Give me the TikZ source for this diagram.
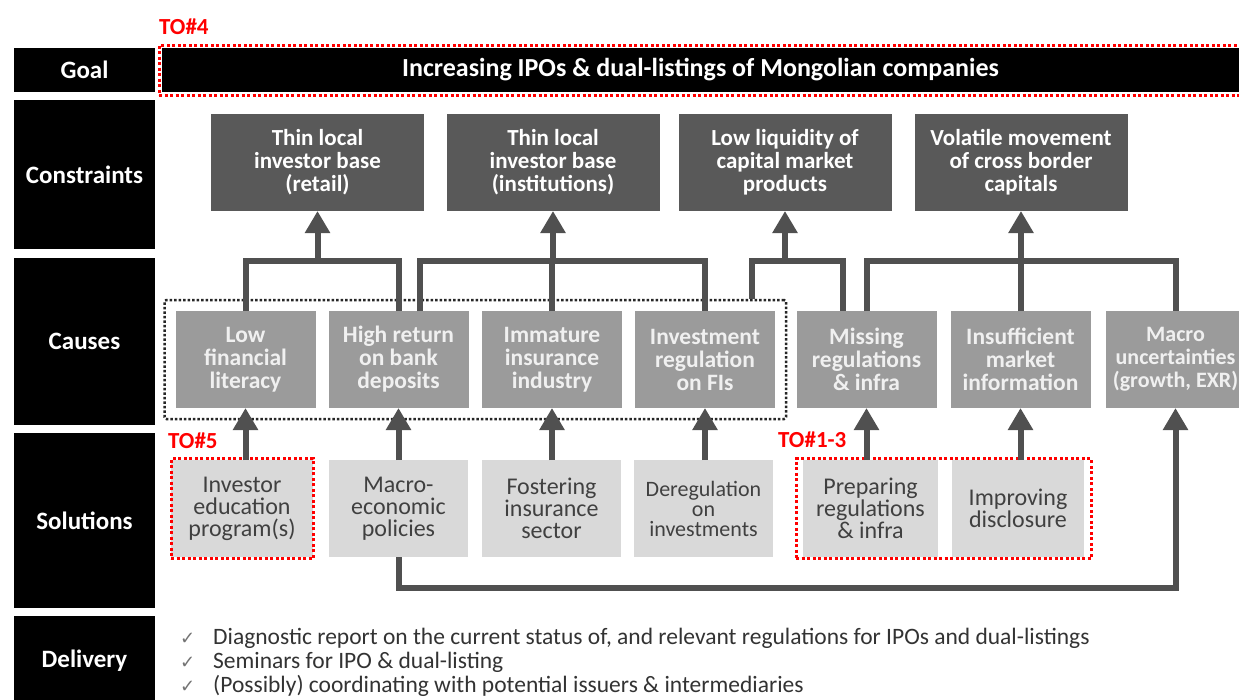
\documentclass[tikz,border=0pt]{standalone}
\usepackage{fontspec}
\setmainfont{Carlito}
\newfontfamily\tickfont{DejaVu Sans}
\usetikzlibrary{arrows.meta, fit}

\definecolor{constraint grey}{HTML}{595959}
\definecolor{cause grey}{HTML}{9B9B9B}
\definecolor{solution grey}{HTML}{D9D9D9}
\definecolor{link grey}{HTML}{505050}
\definecolor{solution text}{HTML}{404040}
\definecolor{target red}{HTML}{FF0000}

\newcommand{\deliverytick}{\makebox[33pt][l]{\textcolor{black!55}{\tickfont\fontsize{18}{18}\selectfont ✓}}}

\tikzset{
	roadmap/.is family,
	roadmap/.cd,
	row label/.style = {
		fill = black,
		text = white,
		inner sep = 0pt,
		outer sep = 0pt,
		minimum width = 141pt,
		font = \fontsize{25}{28}\selectfont\bfseries,
	},
	goal bar/.style = {
		fill = black,
		text = white,
		inner sep = 0pt,
		outer sep = 0pt,
		minimum width = 1077pt,
		minimum height = 44pt,
		font = \fontsize{26}{28}\selectfont\bfseries,
	},
	constraint box/.style = {
		fill = constraint grey,
		text = white,
		align = center,
		inner sep = 0pt,
		outer sep = 0pt,
		minimum width = 213pt,
		minimum height = 97pt,
		font = \fontsize{23}{23}\selectfont\bfseries,
	},
	cause box/.style = {
		fill = cause grey,
		text = white!94!black,
		align = center,
		inner sep = 0pt,
		outer sep = 0pt,
		minimum width = 140pt,
		minimum height = 97pt,
		font = \fontsize{23.5}{23}\selectfont\bfseries,
	},
	solution box/.style = {
		fill = solution grey,
		text = solution text,
		align = center,
		inner sep = 0pt,
		outer sep = 0pt,
		minimum width = 139pt,
		minimum height = 97pt,
		font = \fontsize{24}{22}\selectfont,
	},
	cause group/.style = {
		draw = black!85,
		line width = 2.5pt,
		dash pattern = on 2.5pt off 2pt,
		rounded corners = 2pt,
		inner sep = 11pt,
	},
	target region/.style = {
		draw = target red,
		line width = 3pt,
		dash pattern = on 3pt off 2.5pt,
	},
	target tag/.style = {
		text = target red,
		inner sep = 0pt,
		anchor = west,
		font = \fontsize{23}{23}\selectfont\bfseries,
	},
	link/.style = {
		draw = link grey,
		line width = 6pt,
	},
	link arrow/.style = {
		roadmap/link,
		-{Triangle[width = 24pt, length = 22pt]},
	},
	delivery item/.style = {
		text = black!80,
		inner sep = 0pt,
		anchor = west,
		font = \fontsize{23.5}{24}\selectfont,
	},
}

\begin{document}
\begin{tikzpicture}[x = 1pt, y = -1pt]
	\useasboundingbox[fill = white] (0, 0) rectangle (1239, 699);

	% row labels
	\node[roadmap/row label, minimum height = 44pt] (lab goal) at (84.5, 70) {Goal};
	\node[roadmap/row label, minimum height = 149pt] (lab constraints) at (84.5, 174.5) {Constraints};
	\node[roadmap/row label, minimum height = 167pt] (lab causes) at (84.5, 341.5) {Causes};
	\node[roadmap/row label, minimum height = 175pt] (lab solutions) at (84.5, 520.5) {Solutions};
	\node[roadmap/row label, minimum height = 90pt] (lab delivery) at (84.5, 661) {Delivery};

	% goal
	\node[roadmap/goal bar] (goal) at (700.5, 70) {Increasing IPOs \& dual-listings of Mongolian companies};
	\node[roadmap/target region, fit = (goal), inner sep = 3pt] (goal target) {};
	\node[roadmap/target tag] (to goal) at (159, 27) {TO\#4};

	% constraints
	\node[roadmap/constraint box] (con1) at (317.5, 162.5) {Thin local\\investor base\\(retail)};
	\node[roadmap/constraint box] (con2) at (553, 162.5) {Thin local\\investor base\\(institutions)};
	\node[roadmap/constraint box] (con3) at (785, 162.5) {Low liquidity of\\capital market\\products};
	\node[roadmap/constraint box] (con4) at (1021, 162.5) {Volatile movement\\of cross border\\capitals};

	% causes
	\node[roadmap/cause box] (cause1) at (245.5, 359.5) {Low\\financial\\literacy};
	\node[roadmap/cause box] (cause2) at (398.5, 359.5) {High return\\on bank\\deposits};
	\node[roadmap/cause box] (cause3) at (552, 359.5) {Immature\\insurance\\industry};
	\node[roadmap/cause box] (cause4) at (705, 359.5) {Investment\\regulation\\on FIs};
	\node[roadmap/cause box] (cause5) at (866.5, 359.5) {Missing\\regulations\\\& infra};
	\node[roadmap/cause box] (cause6) at (1020.5, 359.5) {Insufficient\\market\\information};
	\node[roadmap/cause box, font = \fontsize{22}{23}\selectfont\bfseries] (cause7) at (1175.5, 359.5) {Macro\\uncertainties\\(growth, EXR)};
	\node[roadmap/cause group, fit = (cause1) (cause4)] (group) {};

	% solutions
	\node[roadmap/solution box, minimum width = 142pt] (sol1) at (242, 508.5) {Investor\\education\\program(s)};
	\node[roadmap/solution box] (sol2) at (398.5, 508.5) {Macro-\\economic\\policies};
	\node[roadmap/solution box] (sol3) at (551.5, 508.5) {Fostering\\insurance\\sector};
	\node[roadmap/solution box, font = \fontsize{22}{20}\selectfont] (sol4) at (703.5, 508.5) {Deregulation\\on\\investments};
	\node[roadmap/solution box, minimum width = 135pt] (sol5) at (870.5, 508.5) {Preparing\\regulations\\\& infra};
	\node[roadmap/solution box, minimum width = 132pt] (sol6) at (1018, 508.5) {Improving\\disclosure};
	\node[roadmap/target region, fit = (sol1), inner xsep = 0pt, inner ysep = 1.5pt] (sol1 target) {};
	\node[roadmap/target region, fit = (sol5) (sol6), inner xsep = 7pt, inner ysep = 1.5pt] (sol target) {};
	\node[roadmap/target tag] (to sol1) at (168, 441) {TO\#5};
	\node[roadmap/target tag] (to sol5) at (778, 440) {TO\#1-3};

	% causes -> constraints
	\coordinate (bar) at (0, 261);
	\coordinate (lane) at (0, 588);
	\coordinate (c2 out) at ([xshift = 21.5pt]cause2.north);
	\coordinate (c4 out) at ([xshift = 47pt]cause4.north);
	\coordinate (c5 in) at ([xshift = -23.5pt]cause5.north);

	\draw[roadmap/link] (cause1.north) |- (cause2.north |- bar) -- (cause2.north);
	\draw[roadmap/link arrow] (con1.south |- bar) -- (con1.south);

	\draw[roadmap/link] (c2 out) |- (cause4.north |- bar) -- (cause4.north);
	\draw[roadmap/link] (cause3.north) -- (cause3.north |- bar);
	\draw[roadmap/link arrow] (con2.south |- bar) -- (con2.south);

	\draw[roadmap/link] (c4 out |- group.north) |- (c5 in |- bar) -- (c5 in);
	\draw[roadmap/link arrow] (con3.south |- bar) -- (con3.south);

	\draw[roadmap/link] (cause5.north) |- (cause7.north |- bar) -- (cause7.north);
	\draw[roadmap/link] (cause6.north) -- (cause6.north |- bar);
	\draw[roadmap/link arrow] (con4.south |- bar) -- (con4.south);

	% solutions -> causes
	\foreach \i in {1, ..., 6} {
		\draw[roadmap/link arrow] (cause\i.south |- sol\i.north) -- (cause\i.south);
	}
	\draw[roadmap/link arrow] (sol2.south) |- (cause7.south |- lane) -- (cause7.south);

	% delivery
	\node[roadmap/delivery item] (del1) at (180, 638) {\deliverytick Diagnostic report on the current status of, and relevant regulations for IPOs and dual-listings};
	\node[roadmap/delivery item] (del2) at (180, 662) {\deliverytick Seminars for IPO \& dual-listing};
	\node[roadmap/delivery item] (del3) at (180, 686) {\deliverytick (Possibly) coordinating with potential issuers \& intermediaries};
\end{tikzpicture}
\end{document}
